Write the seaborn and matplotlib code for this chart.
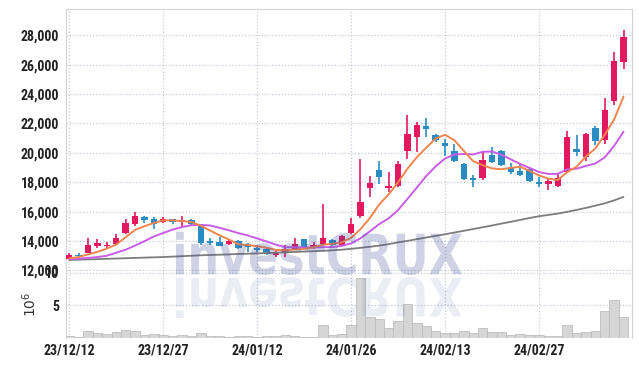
import matplotlib
matplotlib.use("Agg")
import numpy as np
import pandas as pd
import seaborn as sns
import matplotlib.pyplot as plt
from matplotlib.ticker import FuncFormatter
from matplotlib.textpath import TextPath
from matplotlib.patches import PathPatch
from matplotlib.font_manager import FontProperties, findfont
from matplotlib.transforms import Affine2D

tick_pos = [0, 10, 20, 30, 40, 50]
tick_labels = ["23/12/12", "23/12/27", "24/01/12", "24/01/26", "24/02/13", "24/02/27"]

opens = [12800, 13070, 13200, 13660, 13640, 13800, 14550, 15150, 15620, 15480,
         15260, 15460, 15260, 15430, 15050, 14000, 13900, 13760, 14000, 13700,
         13520, 13480, 13070, 13180, 13430, 14100, 13550, 13800, 14050, 13710,
         14550, 15690, 17580, 18830, 17620, 17730, 20150, 21060, 21830, 21220,
         20690, 20140, 19240, 18280, 18300, 19850, 20140, 18940, 18760, 18870,
         18030, 17850, 17760, 18710, 20260, 19740, 21710, 20870, 23560, 26220]
highs = [13150, 13150, 14230, 14100, 13930, 14500, 15480, 15980, 15680, 15620,
         15660, 15500, 15690, 15480, 15100, 14230, 14270, 14050, 14080, 13890,
         13700, 13520, 13370, 13700, 14200, 14150, 13930, 16500, 14130, 14400,
         15530, 19560, 18440, 19460, 18710, 19460, 22580, 22120, 22360, 21300,
         20920, 20600, 19300, 18480, 20030, 20370, 20220, 19280, 19280, 19050,
         18330, 18260, 18600, 21490, 21220, 21370, 21830, 23720, 26900, 28380]
lows = [12750, 12870, 13150, 13550, 13430, 13700, 14450, 15030, 15200, 14780,
        15190, 15120, 14890, 15080, 13700, 13710, 13640, 13700, 13480, 13250,
        13250, 13070, 12910, 12910, 13370, 13480, 13480, 13750, 13640, 13660,
        14500, 15530, 16960, 17870, 17340, 17700, 19560, 20080, 21100, 20760,
        19780, 19390, 18150, 17640, 18140, 19320, 19100, 18550, 18440, 18000,
        17690, 17460, 17640, 18600, 19800, 19440, 20530, 20600, 23260, 25720]
closes = [13070, 12940, 13700, 13850, 13700, 14200, 15250, 15700, 15430, 15140,
          15460, 15280, 15430, 15130, 13830, 13830, 13660, 13980, 13550, 13590,
          13410, 13140, 13250, 13430, 13820, 13590, 13700, 14180, 13710, 14320,
          15140, 16660, 17970, 18370, 17730, 19240, 21280, 21900, 21600, 20870,
          20490, 19460, 18210, 18140, 19510, 19390, 19170, 18710, 18490, 18100,
          17850, 18070, 18260, 21100, 20030, 21280, 20840, 22920, 26270, 27860]

# volume in millions of shares
volume = [0.30, 0.20, 1.03, 0.77, 0.62, 0.88, 1.19, 1.03, 0.41, 0.57,
          0.41, 0.26, 0.41, 0.26, 0.75, 0.35, 0.26, 0.10, 0.26, 0.26,
          0.10, 0.26, 0.26, 0.41, 0.26, 0.10, 0.10, 1.96, 0.41, 0.57,
          1.96, 9.25, 3.25, 2.92, 1.52, 2.56, 5.26, 2.32, 1.80, 1.03,
          0.77, 0.77, 1.03, 0.77, 1.50, 0.88, 0.88, 0.41, 0.57, 0.41,
          0.41, 0.26, 0.26, 1.96, 0.77, 0.88, 1.03, 4.15, 5.85, 3.25]

ma5 = [12820, 12900, 13080, 13250, 13480, 13750, 14250, 14750, 15000, 15220,
       15400, 15400, 15350, 15290, 15030, 14700, 14380, 14090, 13770, 13720,
       13640, 13530, 13390, 13360, 13410, 13450, 13560, 13740, 13800, 13900,
       14210, 14800, 15560, 16490, 17170, 17990, 18920, 19700, 20350, 20980,
       21230, 20860, 20130, 19430, 19160, 18940, 18880, 18980, 19050, 18770,
       18460, 18240, 18150, 18680, 19060, 19750, 20300, 21230, 22270, 23830]
ma10 = [12750, 12790, 12840, 12900, 12990, 13200, 13400, 13680, 13980, 14300,
        14540, 14770, 14940, 15070, 15090, 15050, 14890, 14720, 14530, 14370,
        14170, 13960, 13740, 13570, 13570, 13540, 13550, 13570, 13580, 13660,
        13830, 14180, 14650, 15150, 15540, 16100, 16860, 17630, 18420, 19080,
        19610, 19890, 19920, 19890, 20070, 20090, 19870, 19560, 19240, 18970,
        18700, 18560, 18570, 18870, 18920, 19110, 19270, 19690, 20470, 21440]
ma_long = [12700, 12720, 12740, 12760, 12780, 12800, 12820, 12840, 12860, 12880,
           12900, 12930, 12960, 12990, 13020, 13040, 13060, 13080, 13110, 13130,
           13150, 13170, 13200, 13220, 13250, 13270, 13300, 13320, 13360, 13400,
           13460, 13530, 13600, 13680, 13780, 13900, 14000, 14120, 14230, 14340,
           14450, 14570, 14690, 14810, 14930, 15050, 15180, 15300, 15430, 15560,
           15680, 15770, 15860, 15980, 16110, 16250, 16400, 16560, 16760, 17000]

UP = "#e3195f"
DOWN = "#2b8cc4"
GRID = "#c5c9d8"
SPINE = "#d4d4d4"


def pick_font():
    # narrow face if one is installed, else a smaller Roboto
    for fam, size in [("Liberation Sans Narrow", 10), ("Roboto Condensed", 10),
                      ("Open Sans Condensed", 10)]:
        try:
            findfont(FontProperties(family=fam), fallback_to_default=False)
            return fam, size
        except Exception:
            pass
    return "Roboto", 9


def main():
    sns.set_style("white")
    fam, fsize = pick_font()
    plt.rcParams["font.family"] = [fam, "DejaVu Sans"]

    df = pd.DataFrame({"i": np.arange(len(closes)), "open": opens, "high": highs,
                       "low": lows, "close": closes, "vol": volume,
                       "ma5": ma5, "ma10": ma10, "ma_long": ma_long})

    fig = plt.figure(figsize=(6.39, 3.66), dpi=100)
    ax = fig.add_axes([0.1033, 0.2596, 0.8857, 0.7158])
    axv = fig.add_axes([0.1033, 0.0765, 0.8857, 0.1831], sharex=ax)

    # candles
    up = df["close"] >= df["open"]
    cols = np.where(up, UP, DOWN)
    ax.vlines(df["i"], df["low"], df["high"], colors=cols, lw=1.2, zorder=3)
    body = (df["close"] - df["open"]).abs().clip(lower=40)
    ax.bar(df["i"], body, bottom=df[["open", "close"]].min(axis=1),
           width=0.68, color=cols, linewidth=0, zorder=4)

    sns.lineplot(data=df, x="i", y="ma_long", ax=ax, color="#7d7d7d", lw=1.3, zorder=5)
    sns.lineplot(data=df, x="i", y="ma10", ax=ax, color="#c95de8", lw=1.4, zorder=5)
    sns.lineplot(data=df, x="i", y="ma5", ax=ax, color="#f0854f", lw=1.4, zorder=6)

    ax.set_ylim(11950, 29800)
    ax.set_yticks(range(12000, 28001, 2000))
    ax.yaxis.set_major_formatter(FuncFormatter(lambda v, p: f"{int(v):,}"))
    ax.set_xlim(-0.35, 59.9)
    ax.set_xticks(tick_pos)
    ax.tick_params(axis="x", labelbottom=False, length=0)
    ax.tick_params(axis="y", length=0, pad=5, labelsize=fsize, labelcolor="#222222")
    ax.grid(True, ls=":", lw=0.9, color=GRID)
    ax.set_xlabel("")
    ax.set_ylabel("")
    for s in ["top", "left", "right"]:
        ax.spines[s].set_color(SPINE)
        ax.spines[s].set_linewidth(0.8)
    ax.spines["bottom"].set_color("#b5b5b5")
    ax.spines["bottom"].set_linewidth(0.8)

    # volume
    sns.barplot(data=df, x="i", y="vol", ax=axv, native_scale=True, width=1.0,
                color="#d6d6d6", saturation=1, edgecolor="#bdbdbd", linewidth=0.6,
                zorder=3)
    axv.set_xlim(-0.35, 59.9)
    axv.set_ylim(0, 10.3)
    axv.set_yticks([5, 10])
    axv.set_xticks(tick_pos)
    axv.set_xticklabels(tick_labels)
    axv.tick_params(axis="both", length=0, labelsize=fsize, labelcolor="#222222")
    axv.tick_params(axis="y", pad=5)
    axv.tick_params(axis="x", pad=4)
    axv.grid(True, ls=":", lw=0.9, color=GRID)
    axv.set_xlabel("")
    axv.set_ylabel(r"$10^6$", fontsize=10, color="#333333", family="DejaVu Sans")
    axv.yaxis.set_label_coords(-0.048, 0.5)
    for s in ["left", "right"]:
        axv.spines[s].set_color(SPINE)
        axv.spines[s].set_linewidth(0.8)
    axv.spines["top"].set_visible(False)
    axv.spines["bottom"].set_visible(False)

    for lab in ax.get_yticklabels() + axv.get_yticklabels() + axv.get_xticklabels():
        lab.set_fontweight("bold")

    # watermark with its reflection
    fp = FontProperties(family="DejaVu Sans", weight="bold")
    tp = TextPath((0, 0), "investCRUX", size=100, prop=fp)
    ext = tp.get_extents()
    fx0, fx1 = 176 / 639, 462 / 639
    sx = (fx1 - fx0) / ext.width
    ytop, ybot = 1 - 232 / 366, 1 - 275 / 366
    sy = (ytop - ybot) / ext.height
    tr = Affine2D().scale(sx, sy).translate(fx0 - ext.x0 * sx, ybot - ext.y0 * sy)
    fig.add_artist(PathPatch(tp, transform=tr + fig.transFigure, lw=0,
                             facecolor=(0.24, 0.31, 0.59), alpha=0.25, zorder=10))
    rtop, rbot = 1 - 277 / 366, 1 - 318 / 366
    sr = (rtop - rbot) / ext.height
    trr = Affine2D().scale(sx, -sr).translate(fx0 - ext.x0 * sx, rtop + ext.y0 * sr)
    fig.add_artist(PathPatch(tp, transform=trr + fig.transFigure, lw=0,
                             facecolor=(0.24, 0.31, 0.59), alpha=0.10, zorder=10))

    fig.savefig("out.png", dpi=100)


if __name__ == "__main__":
    main()
